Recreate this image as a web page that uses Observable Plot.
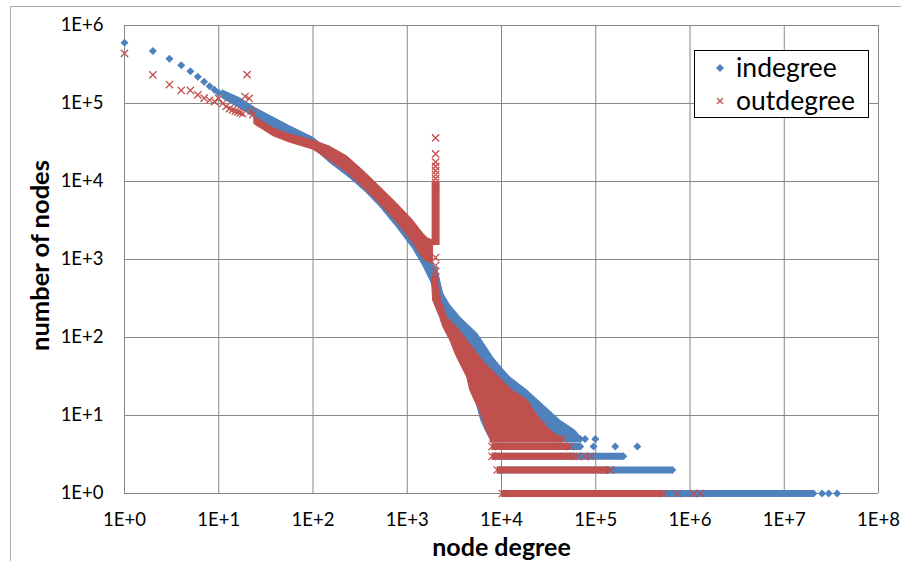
<!DOCTYPE html>
<html>
<head>
<meta charset="utf-8">
<script src="https://cdn.jsdelivr.net/npm/d3@7"></script>
<script src="https://cdn.jsdelivr.net/npm/@observablehq/plot@0.6"></script>
<style>
  body { margin: 0; background: #fff; }
  #wrap { position: relative; width: 901px; height: 561px; overflow: hidden; background: #fff; font-family: Lato, "Open Sans", sans-serif; }
  #border { position: absolute; left: 10px; top: 6px; width: 960px; height: 640px; border: 1px solid #ABABAB; box-sizing: border-box; }
  #chart { position: absolute; left: 0; top: 0; }
  #legend { position: absolute; left: 694px; top: 50px; width: 175px; height: 68px; border: 1px solid #000; box-sizing: border-box; background: #fff; }
  #legend .item { position: absolute; left: 0; height: 30px; font-size: 26.5px; color: #000; }
  #legend svg { position: absolute; left: 19px; top: 10px; }
  #legend span { position: absolute; left: 41px; top: 0; white-space: nowrap; line-height: 30px; }
</style>
</head>
<body>
<div id="wrap">
  <div id="border"></div>
  <div id="chart"></div>
  <div id="legend"></div>
</div>
<script>
// ---------------- data ----------------
const seriesNames = ["indegree", "outdegree"];
const BLUE = "#4F81BD";
const RED = "#C0504D";

const xTicks = [1, 1e1, 1e2, 1e3, 1e4, 1e5, 1e6, 1e7, 1e8];
const xTickLabels = ["1E+0", "1E+1", "1E+2", "1E+3", "1E+4", "1E+5", "1E+6", "1E+7", "1E+8"];
const yTicks = [1, 1e1, 1e2, 1e3, 1e4, 1e5, 1e6];
const yTickLabels = ["1E+0", "1E+1", "1E+2", "1E+3", "1E+4", "1E+5", "1E+6"];

// indegree: individual low-degree points
const inHeadX = [1, 2, 3, 4, 5, 6, 7, 8, 9, 10];
const inHeadY = [600000, 470000, 374000, 310000, 260000, 220000, 190000, 166000, 150000, 136000];
// indegree: dense band (degree, lower and upper count)
const inBandX  = [11, 17, 25, 38, 57, 100, 150, 250, 360, 510, 780, 1150, 1470, 1740, 2000];
const inBandLo = [116000, 86000, 64000, 48000, 38000, 27300, 17500, 10900, 7400, 4800, 2570, 1380, 838, 555, 378];
const inBandHi = [147000, 116000, 86000, 66000, 51000, 36600, 25000, 17000, 11900, 7700, 4500, 2500, 1510, 1030, 767];
// indegree: dense tail (count, lowest and highest degree)
const inTailY  = [767, 540, 366, 257, 180, 112, 79, 55, 41, 30.7, 21, 15.6, 11.6, 8.6, 6.4, 5];
const inTailXL = [1840, 1880, 2000, 2200, 2400, 2900, 3300, 3700, 4100, 4500, 5000, 5300, 5700, 6100, 6800, 7600];
const inTailXR = [2080, 2230, 2400, 2860, 3670, 5540, 6710, 8170, 10000, 12400, 18700, 24500, 32100, 42000, 60600, 72000];
// indegree: rows at small counts
const inRowY  = [5, 4, 3, 2, 1];
const inRowX1 = [7600, 7950, 7950, 9000, 10000];
const inRowX2 = [68500, 68500, 196000, 649000, 20400000];
// indegree: isolated points
const inDotX = [77000, 99000, 94800, 161000, 276000, 25200000, 29600000, 36400000];
const inDotY = [5, 5, 4, 4, 4, 1, 1, 1];

// outdegree: individual low-degree points
const outHeadX = [1, 2, 3, 4, 5, 6, 7, 8, 9, 10, 11, 12, 13, 14, 15, 16, 17, 18, 19, 20, 21, 22, 23];
const outHeadY = [440000, 233000, 175000, 147000, 147000, 129000, 117000, 110000, 106000, 116000, 100000, 92000, 86000, 83000, 80000, 78000, 76000, 74000, 123000, 235000, 116000, 80000, 72000];
// outdegree: dense band
const outBandX  = [24, 38, 57, 100, 151, 230, 340, 510, 780, 1150, 1470, 1660, 1880];
const outBandLo = [54000, 38000, 31500, 25700, 18600, 13000, 8400, 5200, 2980, 1650, 1030, 916, 890];
const outBandHi = [68000, 48000, 40000, 33600, 28000, 21000, 13800, 8600, 5200, 3160, 2150, 1860, 1750];
// outdegree: spike at the 2000 follow limit
const spikeX = 2000;
const spikeSolid = [1510, 9700];
const spikeY = [36300, 22600, 17700, 15600, 13800, 12300, 10900, 9700, 1060, 838, 702, 605];
// outdegree: dense tail
const outTailY  = [588, 492, 298, 180, 134, 91.5, 62.4, 46.4, 30.7, 21, 15.6, 11.6, 8.6, 6.4, 5];
const outTailXL = [1840, 1840, 1880, 2230, 2420, 2860, 3230, 3640, 4330, 4650, 5200, 5900, 6400, 6970, 7590];
const outTailXR = [2130, 2130, 2290, 2660, 3390, 4330, 5520, 6710, 9500, 13000, 19000, 22000, 26500, 33000, 45000];
// outdegree: rows at small counts
const outRowY  = [5, 4, 3, 2, 1];
const outRowX1 = [7590, 7950, 7950, 9000, 10200];
const outRowX2 = [45000, 53600, 57800, 143000, 521000];
// outdegree: isolated points
const outDotX = [7950, 7950, 9000, 10200, 63000, 77000, 88000, 143000, 728000, 1090000, 1290000, 21700, 27700];
const outDotY = [4, 3, 2, 1, 3, 3, 3, 2, 1, 1, 1, 9.2, 7.4];

// ---------------- tables ----------------
const pts = (xs, ys) => xs.map((x, i) => ({x, y: ys[i]}));
const band = (xs, lo, hi) => xs.map((x, i) => ({x, lo: lo[i], hi: hi[i]}));
const tail = (ys, xl, xr) => ys.map((y, i) => ({y, xl: xl[i], xr: xr[i]}));
const rows = (ys, x1, x2) => ys.map((y, i) => ({y, x1: x1[i], x2: x2[i]}));

const inRows = rows(inRowY, inRowX1, inRowX2);
const outRows = rows(outRowY, outRowX1, outRowX2);
const inRowEnds = inRows.map(d => ({x: d.x2, y: d.y}));
const outRowEnds = outRows.map(d => ({x: d.x2, y: d.y}));

const xLabel = d => xTickLabels[xTicks.indexOf(d)];
const yLabel = d => yTickLabels[yTicks.indexOf(d)];

const diamond = {symbol: "diamond2", r: 3.6, fill: BLUE, stroke: "none"};
const cross = {symbol: "times", r: 3.4, fill: "none", stroke: RED, strokeWidth: 1.3};

const chart = Plot.plot({
  width: 901,
  height: 561,
  marginLeft: 124,
  marginRight: 23,
  marginTop: 25,
  marginBottom: 68,
  style: {fontFamily: "Lato, 'Open Sans', sans-serif", fontSize: "18.5px", color: "#000", background: "transparent", overflow: "visible"},
  x: {type: "log", domain: [1, 1e8]},
  y: {type: "log", domain: [1, 1e6]},
  marks: [
    Plot.gridX(xTicks, {stroke: "#868686", strokeOpacity: 1, strokeWidth: 1}),
    Plot.gridY(yTicks, {stroke: "#868686", strokeOpacity: 1, strokeWidth: 1}),

    // indegree
    Plot.areaY(band(inBandX, inBandLo, inBandHi), {x: "x", y1: "lo", y2: "hi", fill: BLUE, stroke: BLUE, strokeWidth: 1}),
    Plot.areaX(tail(inTailY, inTailXL, inTailXR), {y: "y", x1: "xl", x2: "xr", fill: BLUE, stroke: BLUE, strokeWidth: 1}),
    Plot.ruleY(inRows, {y: "y", x1: "x1", x2: "x2", stroke: BLUE, strokeWidth: 7}),
    Plot.dot(inRowEnds, {x: "x", y: "y", ...diamond}),
    Plot.dot(pts(inDotX, inDotY), {x: "x", y: "y", ...diamond}),
    Plot.dot(pts(inHeadX, inHeadY), {x: "x", y: "y", ...diamond}),

    // outdegree
    Plot.areaY(band(outBandX, outBandLo, outBandHi), {x: "x", y1: "lo", y2: "hi", fill: RED, stroke: RED, strokeWidth: 1}),
    Plot.areaX(tail(outTailY, outTailXL, outTailXR), {y: "y", x1: "xl", x2: "xr", fill: RED, stroke: RED, strokeWidth: 1}),
    Plot.ruleY(outRows, {y: "y", x1: "x1", x2: "x2", stroke: RED, strokeWidth: 7}),
    Plot.ruleX([{x: spikeX, y1: spikeSolid[0], y2: spikeSolid[1]}], {x: "x", y1: "y1", y2: "y2", stroke: RED, strokeWidth: 8}),
    Plot.dot(spikeY.map(y => ({x: spikeX, y})), {x: "x", y: "y", ...cross}),
    Plot.dot(outRowEnds, {x: "x", y: "y", ...cross}),
    Plot.dot(pts(outDotX, outDotY), {x: "x", y: "y", ...cross}),
    Plot.dot(pts(outHeadX, outHeadY), {x: "x", y: "y", ...cross}),

    // axes
    Plot.axisX(xTicks, {tickSize: 0, tickPadding: 19, tickFormat: xLabel, label: null}),
    Plot.axisY(yTicks, {tickSize: 0, tickPadding: 21, tickFormat: yLabel, label: null}),
    Plot.text(["node degree"], {frameAnchor: "bottom", lineAnchor: "middle", textAnchor: "middle", dy: 54.5, fontSize: 25, fontWeight: "bold", fill: "#000"}),
    Plot.text(["number of nodes"], {frameAnchor: "left", lineAnchor: "middle", textAnchor: "middle", dx: -84, dy: -4, rotate: -90, fontSize: 25.5, fontWeight: "bold", fill: "#000"})
  ]
});
document.getElementById("chart").appendChild(chart);

// legend
const legend = document.getElementById("legend");
const items = [
  {name: seriesNames[0], top: 1, svg: `<svg width="12" height="12"><polygon points="6,2 10,6 6,10 2,6" fill="${BLUE}"/></svg>`},
  {name: seriesNames[1], top: 34, svg: `<svg width="12" height="12"><path d="M3,3L9,9M9,3L3,9" stroke="${RED}" stroke-width="1.3" fill="none"/></svg>`}
];
for (const it of items) {
  const div = document.createElement("div");
  div.className = "item";
  div.style.top = it.top + "px";
  div.innerHTML = it.svg + `<span>${it.name}</span>`;
  legend.appendChild(div);
}
</script>
</body>
</html>
